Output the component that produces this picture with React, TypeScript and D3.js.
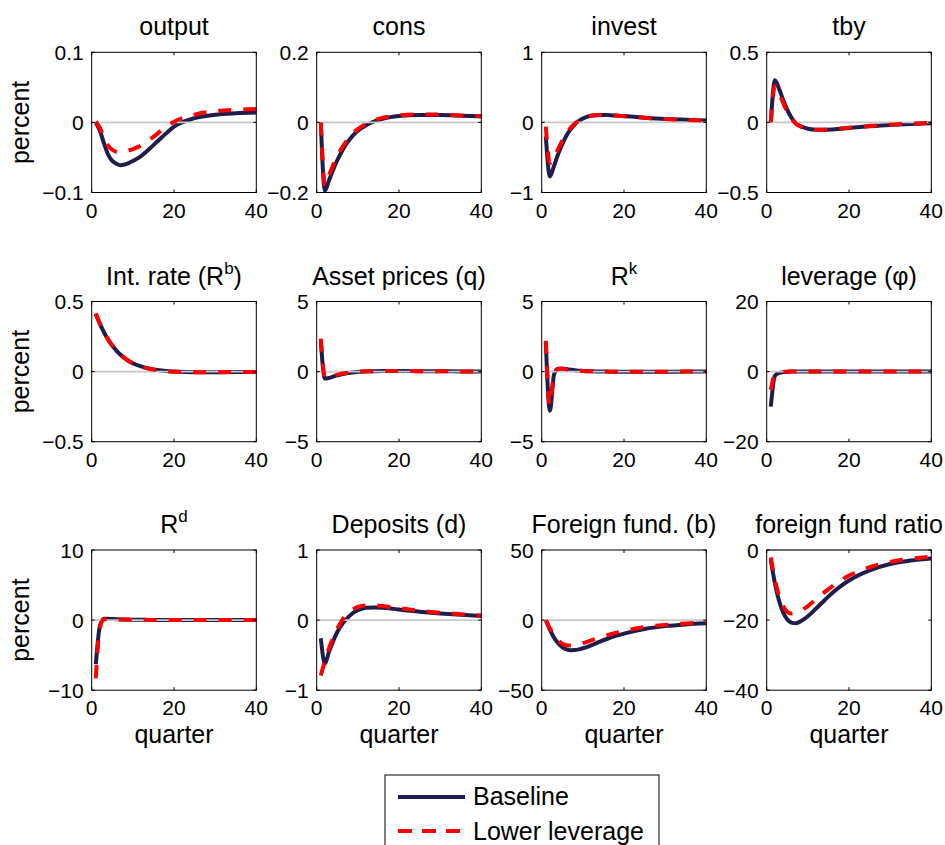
import React from 'react';
import * as d3 from 'd3';

// ---------- data ----------
const QUARTERS = [1, 2, 3, 4, 5, 6, 7, 8, 9, 10, 12, 14, 16, 18, 20, 25, 30, 35, 40];
const X_DOMAIN = [0, 40];
const X_TICKS = [0, 20, 40];
const SERIES_NAMES = ['Baseline', 'Lower leverage'];

const outputBase = [0.0, -0.012, -0.03, -0.046, -0.055, -0.059, -0.061, -0.06, -0.058, -0.055, -0.048, -0.038, -0.027, -0.016, -0.006, 0.006, 0.011, 0.013, 0.014];
const outputLow = [0.001, -0.008, -0.022, -0.033, -0.039, -0.042, -0.043, -0.042, -0.04, -0.038, -0.033, -0.025, -0.016, -0.006, 0.001, 0.011, 0.016, 0.018, 0.019];

const consBase = [0.0, -0.195, -0.165, -0.135, -0.108, -0.085, -0.065, -0.049, -0.035, -0.024, -0.008, 0.003, 0.01, 0.015, 0.018, 0.021, 0.021, 0.019, 0.017];
const consLow = [0.0, -0.18, -0.15, -0.122, -0.097, -0.075, -0.057, -0.042, -0.029, -0.019, -0.004, 0.006, 0.013, 0.017, 0.02, 0.023, 0.022, 0.02, 0.018];

const investBase = [-0.2, -0.77, -0.62, -0.45, -0.31, -0.19, -0.1, -0.03, 0.02, 0.055, 0.095, 0.107, 0.105, 0.098, 0.09, 0.068, 0.05, 0.038, 0.028];
const investLow = [-0.06, -0.58, -0.5, -0.38, -0.26, -0.16, -0.08, -0.02, 0.025, 0.06, 0.097, 0.107, 0.104, 0.097, 0.088, 0.066, 0.048, 0.036, 0.027];

const tbyBase = [0.0, 0.3, 0.24, 0.16, 0.09, 0.035, -0.003, -0.023, -0.036, -0.045, -0.052, -0.053, -0.05, -0.045, -0.04, -0.028, -0.018, -0.011, -0.006];
const tbyLow = [0.0, 0.26, 0.21, 0.14, 0.075, 0.027, -0.007, -0.026, -0.038, -0.046, -0.052, -0.052, -0.049, -0.044, -0.038, -0.026, -0.016, -0.009, -0.004];

const rbBase = [0.41, 0.34, 0.28, 0.228, 0.185, 0.15, 0.12, 0.096, 0.076, 0.06, 0.037, 0.021, 0.011, 0.004, 0.0, -0.005, -0.005, -0.003, -0.002];
const rbLow = [0.415, 0.343, 0.282, 0.229, 0.186, 0.15, 0.12, 0.096, 0.076, 0.06, 0.036, 0.02, 0.01, 0.003, -0.001, -0.005, -0.004, -0.003, -0.002];

const qBase = [2.2, -0.5, -0.45, -0.36, -0.27, -0.19, -0.13, -0.08, -0.05, -0.02, 0.01, 0.03, 0.04, 0.04, 0.04, 0.03, 0.02, 0.015, 0.01];
const qLow = [2.35, -0.42, -0.38, -0.3, -0.22, -0.15, -0.1, -0.06, -0.03, -0.01, 0.02, 0.03, 0.04, 0.04, 0.04, 0.03, 0.02, 0.015, 0.01];

const rkBase = [2.1, -2.8, -0.2, 0.2, 0.22, 0.18, 0.14, 0.1, 0.07, 0.05, 0.02, 0.01, 0.0, -0.01, -0.01, -0.01, -0.01, 0.0, 0.0];
const rkLow = [2.2, -2.4, -0.1, 0.18, 0.2, 0.16, 0.12, 0.09, 0.06, 0.04, 0.02, 0.01, 0.0, -0.01, -0.01, -0.01, -0.01, 0.0, 0.0];

const levBase = [-10.0, -1.2, -0.4, -0.15, -0.05, 0.0, 0.0, 0.0, 0.0, 0.0, 0.0, 0.0, 0.0, 0.0, 0.0, 0.0, 0.0, 0.0, 0.0];
const levLow = [-5.2, -0.8, -0.3, -0.1, -0.03, 0.0, 0.0, 0.0, 0.0, 0.0, 0.0, 0.0, 0.0, 0.0, 0.0, 0.0, 0.0, 0.0, 0.0];

const rdBase = [-6.3, -0.8, 0.2, 0.2, 0.15, 0.12, 0.1, 0.08, 0.07, 0.06, 0.04, 0.03, 0.02, 0.02, 0.01, 0.0, 0.0, 0.0, 0.0];
const rdLow = [-8.3, -1.0, 0.1, 0.15, 0.13, 0.11, 0.09, 0.07, 0.06, 0.05, 0.04, 0.03, 0.02, 0.01, 0.01, 0.0, 0.0, 0.0, 0.0];

const depBase = [-0.26, -0.62, -0.45, -0.3, -0.17, -0.07, 0.0, 0.06, 0.11, 0.14, 0.175, 0.18, 0.175, 0.165, 0.15, 0.12, 0.095, 0.075, 0.058];
const depLow = [-0.79, -0.58, -0.4, -0.25, -0.12, -0.02, 0.06, 0.12, 0.16, 0.19, 0.21, 0.21, 0.2, 0.185, 0.17, 0.135, 0.105, 0.085, 0.065];

const bBase = [0, -7, -12.5, -16.5, -19.3, -20.9, -21.5, -21.4, -20.9, -20.1, -18.0, -15.6, -13.3, -11.3, -9.6, -6.3, -4.3, -3.1, -2.3];
const bLow = [0, -6, -11, -14.5, -16.8, -17.9, -18.1, -17.8, -17.2, -16.4, -14.5, -12.5, -10.7, -9.1, -7.7, -5.0, -3.4, -2.4, -1.8];

const ratioBase = [-2.9, -9.5, -14.5, -17.8, -19.8, -20.7, -20.9, -20.5, -19.8, -18.9, -16.7, -14.4, -12.2, -10.3, -8.7, -5.8, -4.0, -3.0, -2.4];
const ratioLow = [-2.1, -8.5, -13.0, -16.0, -17.6, -18.1, -18.0, -17.5, -16.8, -16.0, -14.1, -12.1, -10.3, -8.7, -7.3, -4.9, -3.4, -2.5, -1.9];

// title: [text before superscript, superscript, text after]
const TITLES = [
  ['output', '', ''], ['cons', '', ''], ['invest', '', ''], ['tby', '', ''],
  ['Int. rate (R', 'b', ')'], ['Asset prices (q)', '', ''], ['R', 'k', ''], ['leverage (φ)', '', ''],
  ['R', 'd', ''], ['Deposits (d)', '', ''], ['Foreign fund. (b)', '', ''], ['foreign fund ratio', '', ''],
];
const Y_TICKS = [
  [-0.1, 0, 0.1], [-0.2, 0, 0.2], [-1, 0, 1], [-0.5, 0, 0.5],
  [-0.5, 0, 0.5], [-5, 0, 5], [-5, 0, 5], [-20, 0, 20],
  [-10, 0, 10], [-1, 0, 1], [-50, 0, 50], [-40, -20, 0],
];
const BASELINE = [outputBase, consBase, investBase, tbyBase, rbBase, qBase, rkBase, levBase, rdBase, depBase, bBase, ratioBase];
const LOWER = [outputLow, consLow, investLow, tbyLow, rbLow, qLow, rkLow, levLow, rdLow, depLow, bLow, ratioLow];

// ---------- layout ----------
const W = 945;
const H = 845;
const COL_X = [91.7, 316.7, 541.7, 766.7];
const ROW_Y = [52.3, 301.5, 550];
const PW = 164.6;
const PH = 140.2;
const FONT = 'Liberation Sans, Arial, Helvetica, sans-serif';
const NAVY = '#201d4a';
const RED = '#ff0000';
const DASH = '13,12';

const fmt = (v: number) => String(v).replace('-', '\u2212');

function Panel({ idx }: { idx: number }) {
  const col = idx % 4;
  const row = Math.floor(idx / 4);
  const x0 = COL_X[col];
  const y0 = ROW_Y[row];
  const yt = Y_TICKS[idx];
  const x = d3.scaleLinear().domain(X_DOMAIN).range([x0, x0 + PW]);
  const y = d3.scaleLinear().domain([yt[0], yt[yt.length - 1]]).range([y0 + PH, y0]);
  const line = d3
    .line<number>()
    .x((_, i) => x(QUARTERS[i]))
    .y((d) => y(d))
    .curve(d3.curveMonotoneX);
  const [t1, sup, t2] = TITLES[idx];
  const tick = 3;
  return (
    <g>
      <text x={x0 + PW / 2} y={y0 - 17} textAnchor="middle" fontSize={25}>
        {t1}
        {sup && (
          <tspan fontSize={17} dy={-11}>
            {sup}
          </tspan>
        )}
        {sup && t2 && <tspan dy={11}>{t2}</tspan>}
      </text>
      <path d={line(BASELINE[idx]) || ''} fill="none" stroke={NAVY} strokeWidth={4} strokeLinejoin="round" />
      <line x1={x0} x2={x0 + PW} y1={y(0)} y2={y(0)} stroke="#c8c8c8" strokeWidth={1.6} />
      <path d={line(LOWER[idx]) || ''} fill="none" stroke={RED} strokeWidth={4} strokeDasharray={DASH} />
      <rect x={x0} y={y0} width={PW} height={PH} fill="none" stroke="#000" strokeWidth={1} />
      {X_TICKS.map((t) => (
        <g key={'x' + t}>
          <line x1={x(t)} x2={x(t)} y1={y0 + PH} y2={y0 + PH - tick} stroke="#000" />
          <line x1={x(t)} x2={x(t)} y1={y0} y2={y0 + tick} stroke="#000" />
          <text x={x(t)} y={y0 + PH + 25} textAnchor="middle" fontSize={21}>
            {fmt(t)}
          </text>
        </g>
      ))}
      {yt.map((t) => (
        <g key={'y' + t}>
          <line x1={x0} x2={x0 + tick} y1={y(t)} y2={y(t)} stroke="#000" />
          <line x1={x0 + PW} x2={x0 + PW - tick} y1={y(t)} y2={y(t)} stroke="#000" />
          <text x={x0 - 8} y={y(t)} dy="0.36em" textAnchor="end" fontSize={21}>
            {fmt(t)}
          </text>
        </g>
      ))}
      {col === 0 && (
        <text transform={`translate(29,${y0 + PH / 2}) rotate(-90)`} textAnchor="middle" fontSize={25}>
          percent
        </text>
      )}
      {row === 2 && (
        <text x={x0 + PW / 2} y={y0 + PH + 53} textAnchor="middle" fontSize={25}>
          quarter
        </text>
      )}
    </g>
  );
}

export default function App() {
  return (
    <svg
      width={W}
      height={H}
      style={{ position: 'absolute', left: 0, top: 0, background: '#fff' }}
      fontFamily={FONT}
      fill="#000"
    >
      <rect x={0} y={0} width={W} height={H} fill="#fff" />
      {TITLES.map((_, i) => (
        <Panel key={i} idx={i} />
      ))}
      <g>
        <rect x={385} y={775} width={274} height={90} fill="#fff" stroke="#000" strokeWidth={1} />
        <line x1={398} x2={465} y1={797} y2={797} stroke={NAVY} strokeWidth={4} />
        <text x={473} y={805} fontSize={25}>
          {SERIES_NAMES[0]}
        </text>
        <line x1={398} x2={465} y1={831} y2={831} stroke={RED} strokeWidth={4} strokeDasharray="14,10" />
        <text x={473} y={840} fontSize={25}>
          {SERIES_NAMES[1]}
        </text>
      </g>
    </svg>
  );
}
